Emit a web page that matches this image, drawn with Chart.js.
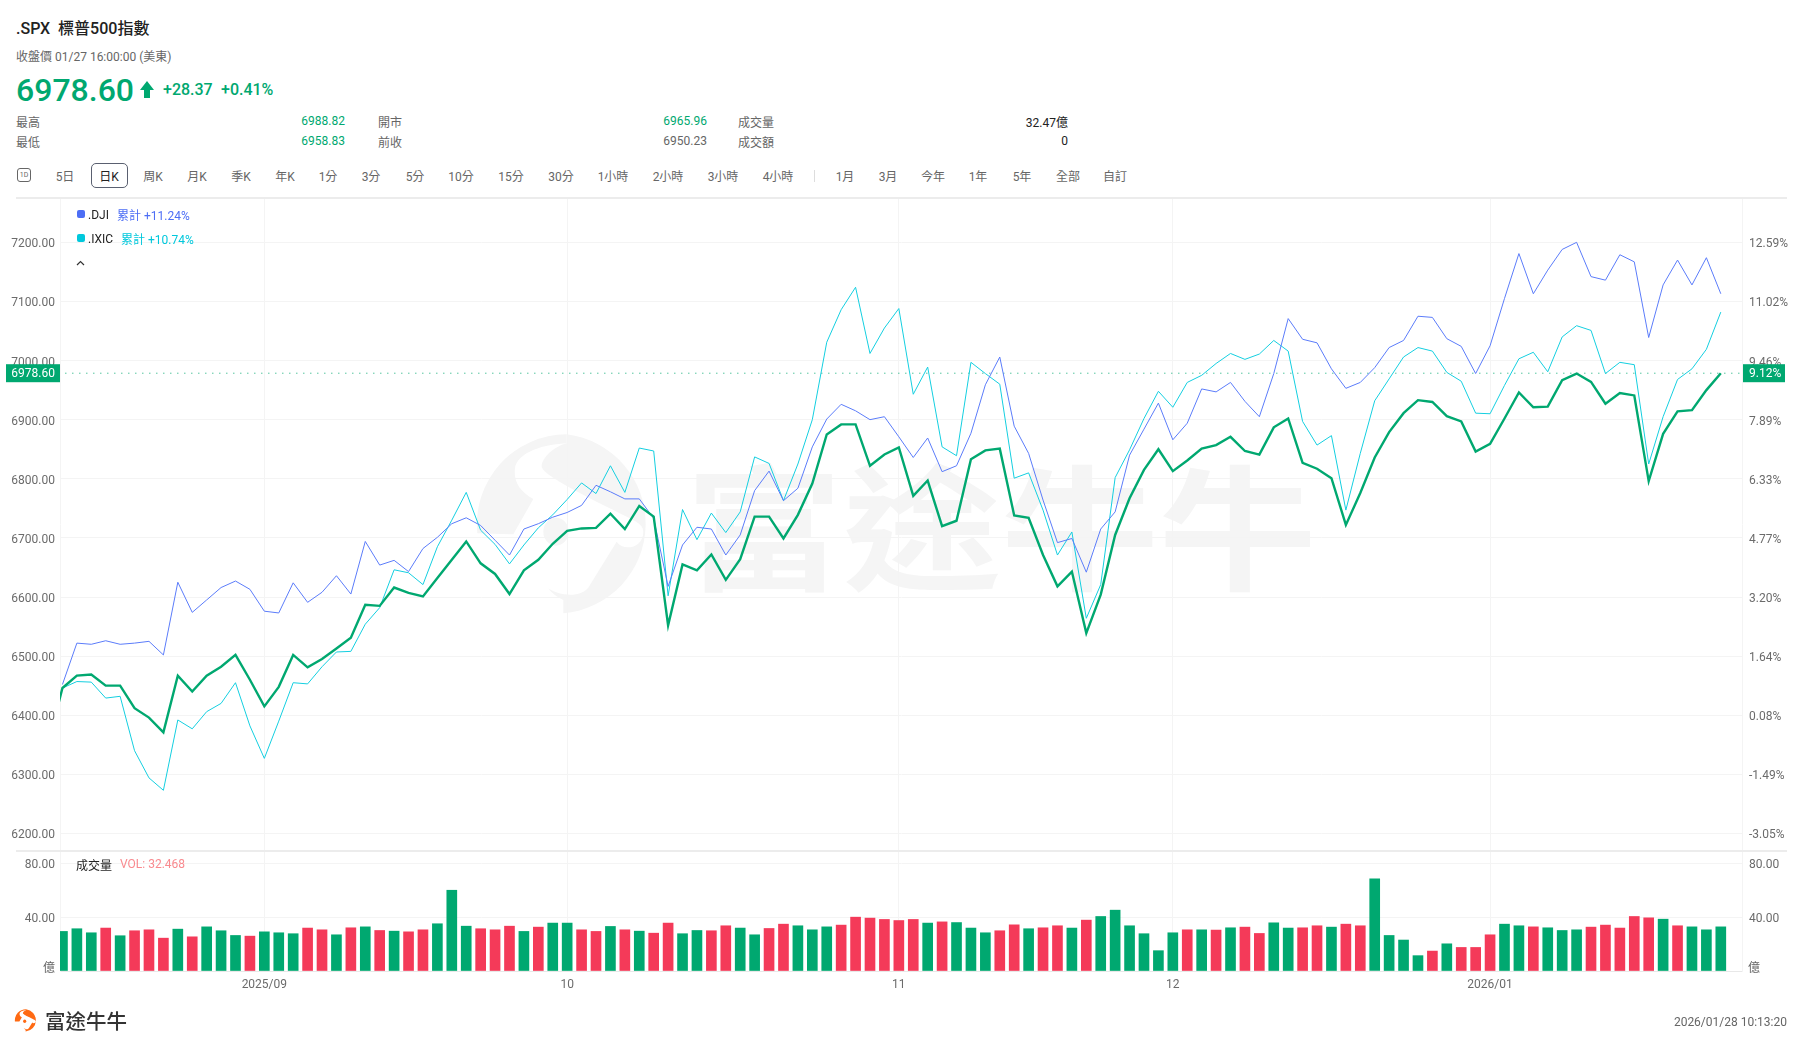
<!DOCTYPE html>
<html>
<head>
<meta charset="utf-8">
<script src="https://cdn.jsdelivr.net/npm/chart.js@4"></script>
<style>
  html, body { margin: 0; background: #fff; width: 1803px; height: 1047px; overflow: hidden; }
  body { font-family: Roboto, "Noto Sans CJK TC", sans-serif; font-size: 12px; color: #666; }
  canvas { position: absolute; left: 0; }
  #priceChart { top: 198px; }
  #volChart { top: 850px; }
  .t { position: absolute; white-space: nowrap; transform: translateY(-50%); margin-top: -1.5px; }
  .r { transform: translate(-100%, -50%); }
  .c { transform: translate(-50%, -50%); }
  .up { color: #00a870; }
  .dark { color: #222; }
  .hr { position: absolute; left: 16px; width: 1771px; height: 2px; background: #ececec; }
  .sq { position: absolute; left: 77px; width: 8px; height: 8px; border-radius: 2px; }
  svg { position: absolute; left: 0; top: 0; }
</style>
</head>
<body>

<svg width="1803" height="1047">
  <defs>
    <g id="swirl">
      <path d="M290 28 A270 270 0 0 0 22 325 L130 328 L190 222 C150 200 130 170 135 130 C140 90 200 60 290 55 Z"/>
      <path d="M290 28 A270 270 0 0 1 280 565 L280 525 C260 515 245 505 235 490 C270 515 340 520 360 480 L440 350 C460 380 520 370 520 320 C520 295 490 285 440 260 C330 205 220 150 215 125 C215 100 250 65 290 55 Z"/>
      <ellipse cx="258" cy="320" rx="38" ry="42"/>
    </g>
  </defs>
  <use href="#swirl" transform="translate(470 425) scale(0.3333)" fill="#f5f5f5"/>
  <use href="#swirl" transform="translate(14 1008) scale(0.0415)" fill="#ff6a13"/>
  <polygon points="147,81 154,90 150,90 150,98 144,98 144,90 140,90" fill="#00a870"/>
  <polyline points="77,265 80.5,261.5 84,265" fill="none" stroke="#333" stroke-width="1.2"/>
</svg>
<div class="t" style="left:685px;top:522px;font-size:135px;line-height:1;font-weight:700;color:#f5f5f5;font-family:'Noto Sans CJK TC';transform:translateY(-50%) scaleX(1.17);transform-origin:left center">富途牛牛</div>

<canvas id="priceChart" width="1803" height="652"></canvas>
<canvas id="volChart" width="1803" height="150"></canvas>

<div class="t dark" style="left:16px;top:28px;font-size:16px;font-weight:500">.SPX&nbsp; 標普500指數</div>
<div class="t" style="left:16px;top:56px">收盤價 01/27 16:00:00 (美東)</div>
<div class="t up" style="left:16px;top:91px;font-size:32px;font-weight:500">6978.60</div>
<div class="t up" style="left:163px;top:90px;font-size:16px;font-weight:500">+28.37</div>
<div class="t up" style="left:221px;top:90px;font-size:16px;font-weight:500">+0.41%</div>

<div class="t" style="left:16px;top:122px">最高</div>
<div class="t r up" style="left:345px;top:122px">6988.82</div>
<div class="t" style="left:378px;top:122px">開市</div>
<div class="t r up" style="left:707px;top:122px">6965.96</div>
<div class="t" style="left:738px;top:122px">成交量</div>
<div class="t r dark" style="left:1068px;top:122px">32.47億</div>
<div class="t" style="left:16px;top:142px">最低</div>
<div class="t r up" style="left:345px;top:142px">6958.83</div>
<div class="t" style="left:378px;top:142px">前收</div>
<div class="t r" style="left:707px;top:142px">6950.23</div>
<div class="t" style="left:738px;top:142px">成交額</div>
<div class="t r dark" style="left:1068px;top:142px">0</div>

<div style="position:absolute;left:17px;top:168px;width:12px;height:12px;border:1px solid #666;border-radius:3px"></div>
<div class="t c" style="left:24px;top:176px;font-size:7px">1D</div>
<div style="position:absolute;left:91px;top:163px;width:35px;height:23px;border:1px solid #5a6070;border-radius:5px"></div>
<div class="t c" style="left:65px;top:176px">5日</div>
<div class="t c dark" style="left:109px;top:176px">日K</div>
<div class="t c" style="left:153px;top:176px">周K</div>
<div class="t c" style="left:197px;top:176px">月K</div>
<div class="t c" style="left:241px;top:176px">季K</div>
<div class="t c" style="left:285px;top:176px">年K</div>
<div class="t c" style="left:328px;top:176px">1分</div>
<div class="t c" style="left:371px;top:176px">3分</div>
<div class="t c" style="left:415px;top:176px">5分</div>
<div class="t c" style="left:461px;top:176px">10分</div>
<div class="t c" style="left:511px;top:176px">15分</div>
<div class="t c" style="left:561px;top:176px">30分</div>
<div class="t c" style="left:613px;top:176px">1小時</div>
<div class="t c" style="left:668px;top:176px">2小時</div>
<div class="t c" style="left:723px;top:176px">3小時</div>
<div class="t c" style="left:778px;top:176px">4小時</div>
<div style="position:absolute;left:814px;top:170px;width:1px;height:12px;background:#ddd"></div>
<div class="t c" style="left:845px;top:176px">1月</div>
<div class="t c" style="left:888px;top:176px">3月</div>
<div class="t c" style="left:933px;top:176px">今年</div>
<div class="t c" style="left:978px;top:176px">1年</div>
<div class="t c" style="left:1022px;top:176px">5年</div>
<div class="t c" style="left:1068px;top:176px">全部</div>
<div class="t c" style="left:1115px;top:176px">自訂</div>
<div class="hr" style="top:197px"></div>
<div class="hr" style="top:850px"></div>

<div class="sq" style="top:210px;background:#4d6ef5"></div>
<div class="t dark" style="left:88px;top:216px">.DJI</div>
<div class="t" style="left:117px;top:215px;color:#4d6ef5">累計 +11.24%</div>
<div class="sq" style="top:234px;background:#00c8dc"></div>
<div class="t dark" style="left:88px;top:240px">.IXIC</div>
<div class="t" style="left:121px;top:239px;color:#00c8dc">累計 +10.74%</div>

<div class="t dark" style="left:76px;top:865px">成交量</div>
<div class="t" style="left:120px;top:865px;color:#f98a8f">VOL: 32.468</div>
<div class="t r" style="left:55px;top:967px">億</div>
<div class="t" style="left:1748px;top:967px">億</div>

<div class="t" style="left:45px;top:1021px;font-size:20.5px;font-weight:500;color:#333">富途牛牛</div>
<div class="t r" style="left:1787px;top:1023px">2026/01/28 10:13:20</div>

<script>
const lastPrice = 6978.60;
const lastPercent = '9.12%';

// 8/11 is only half visible at the left edge
const spxBefore = 6350;

const spxClose = [
  6446,6467,6469,6450,6450,6412,6396,6371,6467,6440,6467,6482,6502,6460,6415,6448,6502,6481,6495,6513,
  6531,6587,6585,6616,6607,6601,6632,6663,6694,6657,6639,6605,6645,6663,6690,6712,6716,6717,6741,
  6715,6754,6736,6552,6655,6645,6672,6629,6664,6736,6736,6699,6739,6792,6875,6892,6892,6822,6841,6853,6771,
  6797,6720,6729,6833,6848,6851,6738,6734,6671,6618,6643,6539,6604,6705,6767,6815,6850,6813,6831,6851,6857,
  6871,6847,6841,6887,6902,6827,6817,6801,6722,6776,6836,6879,6911,6933,6930,6906,6897,6846,6859,6902,
  6946,6921,6922,6967,6978,6964,6927,6945,6941,6796,6876,6914,6916,6950,6978.6
];

const djiClose = [
  6452,6522,6520,6526,6520,6522,6525,6502,6625,6574,6595,6616,6627,6613,6576,6573,6624,6591,6608,6636,
  6605,6694,6654,6662,6643,6682,6701,6724,6734,6721,6696,6671,6715,6724,6735,6743,6755,6789,6778,
  6766,6766,6733,6618,6688,6718,6715,6671,6705,6780,6813,6763,6784,6854,6901,6926,6915,6900,6905,6871,6836,
  6869,6812,6822,6877,6959,7006,6889,6843,6764,6692,6699,6642,6715,6744,6840,6884,6928,6866,6894,6952,6947,
  6963,6931,6905,6978,7071,7036,7030,6986,6953,6963,6988,7022,7034,7075,7073,7037,7024,6978,7025,7105,
  7181,7113,7153,7188,7200,7142,7136,7179,7167,7039,7128,7170,7128,7174,7113
];

const ixicClose = [
  6446,6457,6456,6429,6432,6340,6294,6273,6392,6377,6406,6420,6455,6382,6327,6390,6455,6453,6482,6507,
  6508,6554,6582,6646,6641,6621,6685,6730,6777,6713,6689,6656,6688,6717,6739,6765,6793,6775,6822,
  6777,6852,6847,6602,6748,6697,6742,6709,6744,6837,6826,6763,6825,6900,7031,7086,7124,7012,7055,7088,6943,
  6989,6854,6839,6997,6978,6960,6801,6810,6747,6671,6710,6564,6621,6802,6849,6902,6948,6921,6963,6975,6995,
  7012,7002,7011,7034,7016,6897,6857,6873,6747,6843,6932,6969,7006,7022,7016,6980,6965,6911,6910,6958,
  7003,7014,6981,7040,7059,7051,6978,6997,6993,6825,6905,6968,6986,7019,7082
];

const volume = [
  29.4,31.4,28.4,31.9,26.2,29.9,30.6,24.4,31.1,25.4,32.8,29.9,26.4,25.9,29.1,28.4,27.7,31.9,30.6,26.9,
  32.1,32.8,30.1,29.6,29.1,30.6,35.1,60,33.3,31.4,30.6,33.3,29.4,32.6,35.6,35.6,30.6,29.4,33.1,30.6,
  29.6,28.1,35.6,27.7,30.1,29.9,33.6,31.9,26.9,31.6,34.8,33.6,30.6,32.8,34.1,40,39.3,38.3,37.5,38.3,
  35.6,36.5,36,31.9,28.4,29.9,34.3,31.4,32.1,33.6,31.9,37.8,40.5,45.2,33.6,27.7,15.1,28.4,30.6,30.6,
  30.4,32.1,32.6,27.9,35.8,31.9,32.1,33.6,32.6,34.8,33.6,68.4,26.4,23,11.4,14.8,20.2,17.5,17.5,26.9,
  34.8,33.6,32.8,32.1,30.1,30.6,32.6,34.1,31.9,40.5,39.5,38.5,33.6,32.8,30.6,32.8
];

// 1 = green bar, 0 = red bar
const volumeUp = [
  1,1,1,0,1,0,0,0,1,0,1,1,1,0,1,1,1,0,0,1,
  0,1,0,1,0,0,1,1,1,0,0,0,1,0,1,1,0,0,1,0,
  1,0,0,1,1,0,0,1,1,0,0,1,1,1,0,0,0,0,0,0,
  1,0,1,1,1,0,0,1,0,0,1,0,1,1,1,1,1,1,0,1,
  0,1,0,0,1,1,0,0,1,0,0,1,1,1,1,0,1,0,0,0,
  1,1,0,1,1,1,0,0,0,0,0,1,0,1,1,1
];

const priceTicks = [7200,7100,7000,6900,6800,6700,6600,6500,6400,6300,6200];
const percentTicks = ['12.59%','11.02%','9.46%','7.89%','6.33%','4.77%','3.20%','1.64%','0.08%','-1.49%','-3.05%'];
const volumeTicks = [80,40,0];
const dateTickIndex = [14,35,58,77,99];
const dateTickLabels = ['2025/09','10','11','12','2026/01'];

const GREEN = '#00a870';
const RED = '#f43a59';
const BLUE = '#5b7cfa';
const CYAN = '#14cfe0';
const GRID = '#f4f4f4';
const TICK = '#6b6b6b';

Chart.defaults.font.family = 'Roboto, "Noto Sans CJK TC", sans-serif';
Chart.defaults.font.size = 12;
Chart.defaults.animation = false;

const xMin = -0.17, xMax = 116.47;
const toPoints = (values) => values.map((v, i) => ({ x: i, y: v }));

// axis sizes are fixed so the plot area does not move with the labels
const fixSize = (s, size) => {
  if (s.isHorizontal()) s.height = size; else s.width = size;
  s.paddingTop = s.paddingBottom = s.paddingLeft = s.paddingRight = 0;
};

const dateAxis = (showLabels) => ({
  type: 'linear', min: xMin, max: xMax, offset: false,
  afterBuildTicks: (s) => { s.ticks = dateTickIndex.map(v => ({ value: v })); },
  afterFit: (s) => fixSize(s, showLabels ? 29 : 0),
  border: { display: showLabels, color: '#e8e8e8' },
  grid: { color: GRID, drawTicks: false, offset: false },
  ticks: {
    display: showLabels, padding: 7, color: TICK, maxRotation: 0, autoSkip: false,
    callback: (v, i) => dateTickLabels[i]
  }
});

const valueAxis = (side, max, min, ticks, format) => ({
  position: side, min: min, max: max,
  afterBuildTicks: (s) => { s.ticks = ticks.map(v => ({ value: v })); },
  afterFit: (s) => fixSize(s, side === 'left' ? 60 : 61),
  border: { color: GRID },
  grid: { display: side === 'left', color: GRID, drawTicks: false },
  ticks: { padding: side === 'left' ? 5 : 7, color: TICK, labelOffset: 2, callback: format }
});

// the green tags with the last price on both sides
const lastPriceTags = {
  id: 'lastPriceTags',
  afterDraw(chart) {
    const { ctx, chartArea } = chart;
    const y = chart.scales.y.getPixelForValue(lastPrice);
    ctx.save();
    ctx.fillStyle = GREEN;
    ctx.fillRect(6, y - 9, chartArea.left - 6, 18);
    ctx.fillRect(chartArea.right + 1, y - 9, 42, 18);
    ctx.fillStyle = '#fff';
    ctx.textBaseline = 'middle';
    ctx.font = '12px Roboto';
    ctx.textAlign = 'right';
    ctx.fillText(lastPrice.toFixed(2), 55, y + 0.5);
    ctx.textAlign = 'left';
    ctx.fillText(lastPercent, chartArea.right + 7, y + 0.5);
    ctx.restore();
  }
};

new Chart(document.getElementById('priceChart'), {
  type: 'line',
  data: {
    datasets: [
      { data: [{ x: -1, y: spxBefore }].concat(toPoints(spxClose)), borderColor: GREEN, borderWidth: 2.4, order: 1 },
      { data: toPoints(djiClose), borderColor: BLUE, borderWidth: 1, order: 2 },
      { data: toPoints(ixicClose), borderColor: CYAN, borderWidth: 1, order: 3 },
      { data: [{ x: 0.2, y: lastPrice }, { x: xMax, y: lastPrice }], borderColor: GREEN, borderWidth: 1, borderDash: [1, 6], order: 4 }
    ]
  },
  options: {
    responsive: false,
    layout: { padding: 0 },
    elements: { point: { radius: 0 }, line: { tension: 0 } },
    plugins: { legend: { display: false }, tooltip: { enabled: false } },
    scales: {
      x: dateAxis(false),
      y: valueAxis('left', 7275, 6172, priceTicks, (v) => v.toFixed(2)),
      yRight: valueAxis('right', 7275, 6172, priceTicks, (v, i) => percentTicks[i])
    }
  },
  plugins: [lastPriceTags]
});

const volumeLabel = (v) => v ? v.toFixed(2) : '';

new Chart(document.getElementById('volChart'), {
  type: 'bar',
  data: {
    datasets: [{
      data: toPoints(volume),
      backgroundColor: volumeUp.map(u => u ? GREEN : RED),
      barThickness: 10
    }]
  },
  options: {
    responsive: false,
    layout: { padding: 0 },
    plugins: { legend: { display: false }, tooltip: { enabled: false } },
    scales: {
      x: dateAxis(true),
      y: valueAxis('left', 89.9, 0, volumeTicks, volumeLabel),
      yRight: valueAxis('right', 89.9, 0, volumeTicks, volumeLabel)
    }
  }
});
</script>
</body>
</html>
